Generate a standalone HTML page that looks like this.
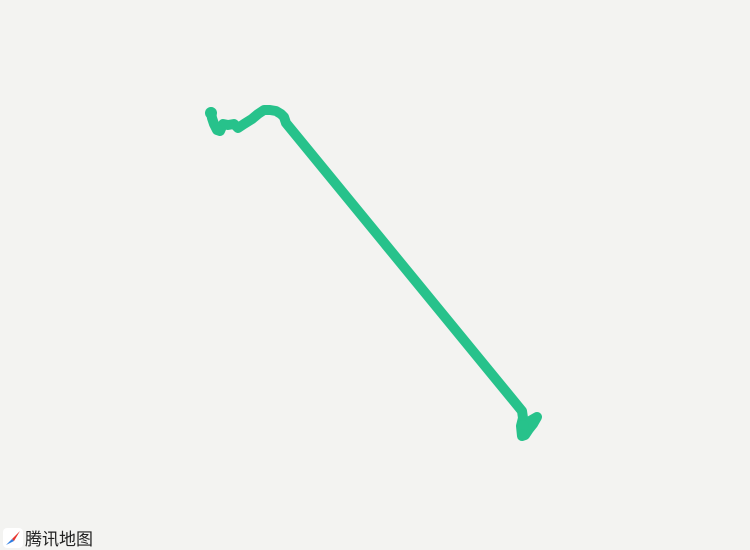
<!DOCTYPE html>
<html><head><meta charset="utf-8"><style>
body{margin:0;background:#f3f3f1;width:750px;height:550px;overflow:hidden;font-family:"Liberation Sans","Noto Sans CJK SC",sans-serif}
#logo{position:absolute;left:3px;top:525px;display:flex;align-items:center;font-size:17px;color:#222}
</style></head><body>
<svg id="map" width="750" height="550" style="position:absolute;left:0;top:0"></svg>
<div id="logo">
<svg width="20" height="20"><rect x="0" y="0" width="20" height="20" rx="4" fill="#fff"/><polygon points="17,3 9,11 11,13" fill="#e8352f"/><polygon points="3,17 9,11 11,13" fill="#2f7de1"/></svg>
<span style="margin-left:2px">腾讯地图</span></div>
<script>
const xs=[211,212,214,217,220,223,228,234,238,244,252,258,264,270,276,281,284,286,522,523,521,522,525,529,533,537,530,526];
const ys=[112,118,124,130,131,124,125,124,128,124,119,114,110,110,111,114,117,123,411,418,426,436,435,429,424,417,421,427];
const svg=document.getElementById('map');
const p=document.createElementNS('http://www.w3.org/2000/svg','polyline');


p.setAttribute('points',xs.map((x,i)=>x+','+ys[i]).join(' '));
p.setAttribute('fill','none');p.setAttribute('stroke','#27c28b');
p.setAttribute('stroke-width','10');p.setAttribute('stroke-linejoin','round');p.setAttribute('stroke-linecap','round');
svg.appendChild(p);
[[211,113,6],[218,130,5],[523,426,6],[522,434,5]].forEach(c=>{
const e=document.createElementNS('http://www.w3.org/2000/svg','circle');


e.setAttribute('cx',c[0]);e.setAttribute('cy',c[1]);e.setAttribute('r',c[2]);e.setAttribute('fill','#27c28b');
svg.appendChild(e);});
</script>
</body></html>
